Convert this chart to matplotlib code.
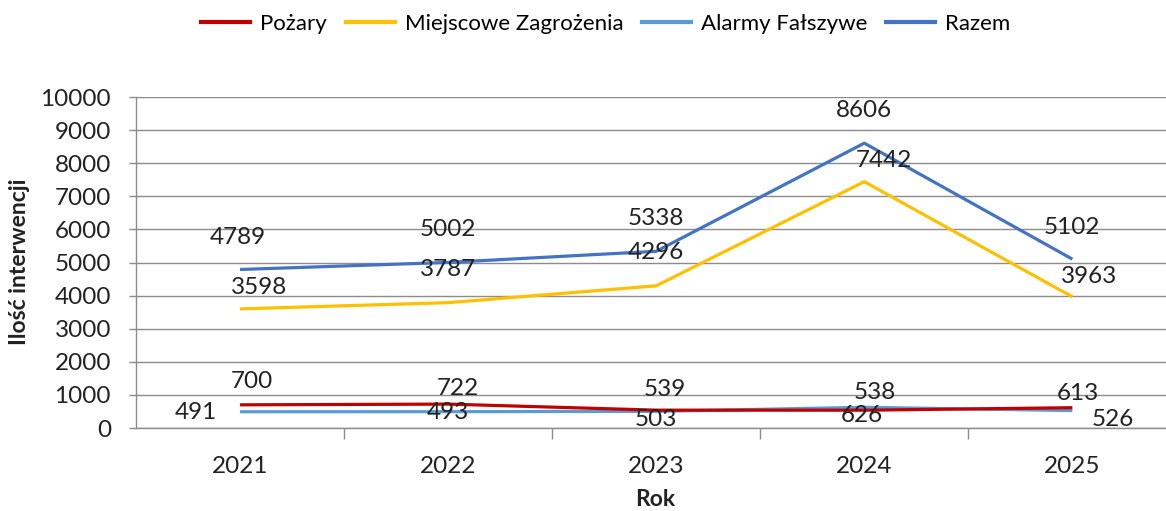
import numpy as np
import matplotlib.pyplot as plt
from matplotlib.lines import Line2D

plt.rcParams['font.family'] = ['Lato', 'DejaVu Sans']

years = ['2021', '2022', '2023', '2024', '2025']
pozary = [700, 722, 539, 538, 613]
miejscowe = [3598, 3787, 4296, 7442, 3963]
alarmy = [491, 493, 503, 626, 526]
razem = [4789, 5002, 5338, 8606, 5102]

names = ['Pożary', 'Miejscowe Zagrożenia', 'Alarmy Fałszywe', 'Razem']
colors = ['#C00000', '#FFC000', '#5B9BD5', '#4472C4']

# label offsets in pixels (dx, dy up)
off_poz = [(12, 23), (10, 16), (9, 21), (10, 18), (6, 14)]
off_mie = [(19, 21), (0, 33), (0, 33), (20, 21), (17, 20)]
off_ala = [(-44, -1), (0, -1), (0, -8), (-2, -8), (40, -9)]
off_raz = [(-2, 32), (0, 33), (0, 33), (0, 33), (0, 32)]

W, H = 1166, 511
fig = plt.figure(figsize=(W / 100, H / 100), dpi=100)
ax = fig.add_axes([136 / W, 83 / H, 1 - 136 / W, 331 / H])

x = np.arange(len(years))
series = [pozary, miejscowe, alarmy, razem]
offsets = [off_poz, off_mie, off_ala, off_raz]
for i in [1, 3, 2, 0]:
    ax.plot(x, series[i], color=colors[i], lw=2.3, solid_capstyle='butt', zorder=3)

k = 0.72
for vals, offs in zip(series, offsets):
    for xi, v, (dx, dy) in zip(x, vals, offs):
        ax.annotate(str(v), (xi, v), xytext=(dx * k, dy * k), textcoords='offset points',
                    ha='center', va='center', fontsize=17.5, color='#222222', zorder=5)

ax.set_xlim(-0.5, 4.45)
ax.set_ylim(0, 10000)
ax.set_yticks(np.arange(0, 10001, 1000))
ax.yaxis.grid(True, color='#8c8c8c', lw=1)
ax.set_axisbelow(True)
ax.set_xticks(x)
ax.set_xticklabels(years)
ax.set_xticks(np.arange(0.5, 4.5, 1), minor=True)
ax.tick_params(axis='x', which='major', length=0, pad=20, labelsize=17.5, labelcolor='#222222')
ax.tick_params(axis='x', which='minor', length=8, width=1, color='#8c8c8c')
ax.tick_params(axis='y', length=5, width=1, color='#8c8c8c', pad=13, labelsize=17.5, labelcolor='#222222')

for s in ['top', 'right']:
    ax.spines[s].set_visible(False)
for s in ['left', 'bottom']:
    ax.spines[s].set_color('#8c8c8c')
    ax.spines[s].set_linewidth(1)

fig.text(20 / W, 1 - 262 / H, 'Ilość interwencji', rotation=90, ha='center', va='center',
         fontsize=16.5, fontweight='bold', color='#222222')
fig.text(655 / W, 1 - 500 / H, 'Rok', ha='center', va='center',
         fontsize=16.5, fontweight='bold', color='#222222')

handles = [Line2D([0], [0], color=c, lw=3) for c in colors]
fig.legend(handles, names, loc='center', bbox_to_anchor=(606 / W, 1 - 24 / H), ncol=4,
           frameon=False, fontsize=16, handlelength=2.2, handletextpad=0.45, columnspacing=0.85)

fig.savefig('out.png', dpi=100)
